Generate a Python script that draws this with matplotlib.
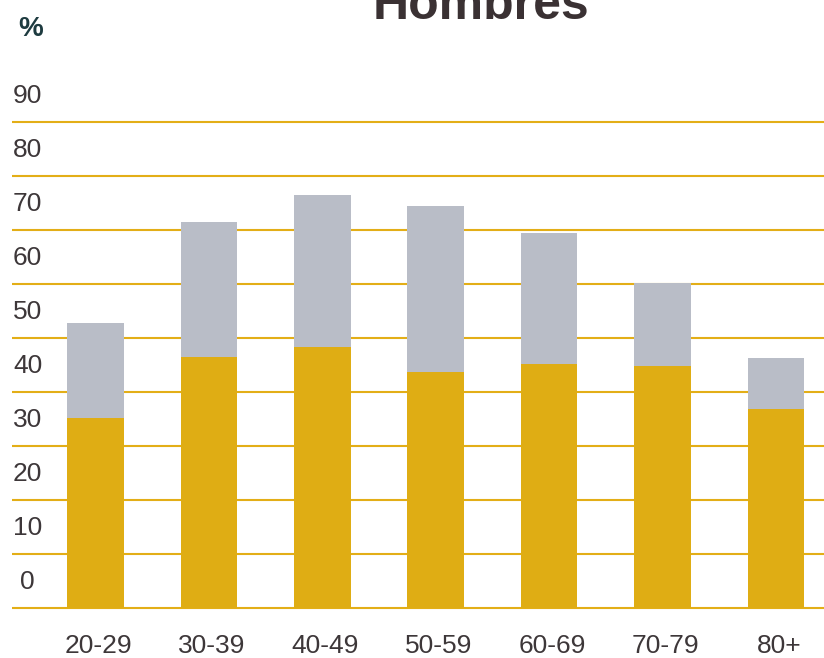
import numpy as np
import matplotlib
matplotlib.use('Agg')
import matplotlib.pyplot as plt
import matplotlib.transforms as mtransforms

# Datos (porcentaje, hombres)
grupos = ['20-29', '30-39', '40-49', '50-59', '60-69', '70-79', '80+']
serie_oro = [35.2, 46.4, 48.3, 43.7, 45.1, 44.7, 36.8]
serie_gris = [17.5, 25.0, 28.1, 30.7, 24.3, 15.5, 9.4]
marcas_y = [0, 10, 20, 30, 40, 50, 60, 70, 80, 90]

oro = '#dfad14'
gris = '#b9bdc7'
linea = '#e3ae17'
texto = '#3d3739'

plt.rcParams['font.family'] = ['Liberation Sans', 'DejaVu Sans']

fig = plt.figure(figsize=(8.24, 6.58), dpi=100)
# axes: x from 12px to right edge, y from -2 to 92
ax = fig.add_axes([12 / 824, 0.0603, 1 - 12 / 824, 0.7711])

x = np.arange(len(grupos))
ax.bar(x, serie_oro, width=0.5, color=oro, zorder=3)
ax.bar(x, serie_gris, width=0.5, bottom=serie_oro, color=gris, zorder=3)

ax.set_xlim(-0.736, 6.424)
ax.set_ylim(-2, 92)

# horizontal grid lines
ax.set_yticks(marcas_y)
ax.yaxis.grid(True, color=linea, linewidth=1.5, zorder=1)
ax.tick_params(axis='y', length=0, labelleft=False)
for s in ax.spines.values():
    s.set_visible(False)

# y labels sit above each line
trans = mtransforms.blended_transform_factory(fig.transFigure, ax.transData)
for v in marcas_y:
    ax.text(27.5 / 824, v + 3.5, str(v), transform=trans, ha='center',
            va='baseline', fontsize=19, color=texto)

ax.set_xticks(x)
ax.set_xticklabels(grupos, fontsize=19, color=texto)
ax.tick_params(axis='x', length=0, pad=11.5)
desplaza = mtransforms.ScaledTranslation(3 / 100, 0, fig.dpi_scale_trans)
for lab in ax.get_xticklabels():
    lab.set_transform(lab.get_transform() + desplaza)

fig.text(480.5 / 824, 1 - 19 / 658, 'Hombres', ha='center', va='baseline',
         fontsize=36, fontweight='bold', color='#3a3133')
fig.text(18 / 824, 1 - 36 / 658, '%', ha='left', va='baseline',
         fontsize=20, fontweight='bold', color='#1e3b40')

fig.savefig('out.png', dpi=100)
